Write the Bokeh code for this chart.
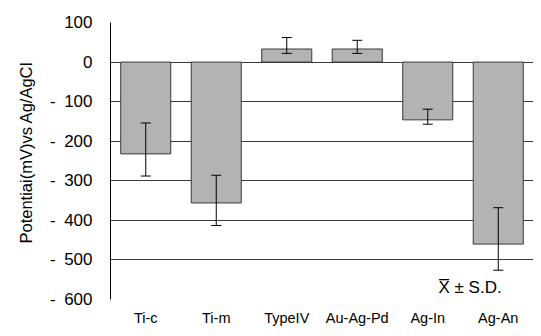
from bokeh.plotting import figure
from bokeh.models import ColumnDataSource, Whisker, TeeHead, FixedTicker, Label, FactorRange, Range1d, Title
from bokeh.embed import file_html
from bokeh.resources import INLINE

categories = ["Ti-c", "Ti-m", "TypeIV", "Au-Ag-Pd", "Ag-In", "Ag-An"]
means = [-232, -356, 33, 33, -146, -460]
err_upper = [-154, -286, 62, 55, -119, -368]
err_lower = [-288, -413, 22, 22, -157, -526]
y_ticks = [-600, -500, -400, -300, -200, -100, 0, 100]
y_tick_labels = ["-\u2002600", "-\u2002500", "-\u2002400", "-\u2002300",
                 "-\u2002200", "-\u2002100", "0", "100"]
y_title = "Potentiai(mV)vs Ag/AgCI"
legend_note = "X\u0305 \u00b1 S.D."

FONT = "Liberation Sans"

src = ColumnDataSource(data=dict(cat=categories, val=means,
                                 upper=err_upper, lower=err_lower))

p = figure(x_range=FactorRange(*categories, range_padding=0),
           y_range=Range1d(-600, 100),
           width=533, height=328, output_backend="svg", toolbar_location=None,
           min_border_left=110, min_border_right=0, min_border_top=22,
           min_border_bottom=22)
p.outline_line_color = None
p.background_fill_color = "white"
p.border_fill_color = "white"

p.vbar(x="cat", top="val", bottom=0, width=0.71, source=src,
       fill_color="#b3b3b3", line_color="#3a3a3a", line_width=1)

w = Whisker(base="cat", upper="upper", lower="lower", source=src,
            line_color="black", line_width=1, level="overlay",
            upper_head=TeeHead(size=10, line_color="black", line_width=1),
            lower_head=TeeHead(size=10, line_color="black", line_width=1))
p.add_layout(w)

# grid
p.xgrid.grid_line_color = None
p.ygrid.ticker = FixedTicker(ticks=y_ticks)
p.ygrid.grid_line_color = "#3a3a3a"
p.ygrid.grid_line_width = 1

# y axis
p.yaxis.ticker = FixedTicker(ticks=y_ticks)
p.yaxis.major_label_overrides = {t: s for t, s in zip(y_ticks, y_tick_labels)}
p.yaxis.axis_line_color = "black"
p.yaxis.major_tick_line_color = None
p.yaxis.minor_tick_line_color = None
p.yaxis.major_label_standoff = 12
p.yaxis.major_label_text_font = FONT
p.yaxis.major_label_text_font_size = "17px"
p.yaxis.major_label_text_color = "black"

ytitle = Title(text=y_title, align="left", offset=56, standoff=23,
               text_font=FONT, text_font_size="16.5px",
               text_font_style="normal", text_color="black")
p.add_layout(ytitle, "left")

# x axis
p.xaxis.axis_line_color = None
p.xaxis.major_tick_line_color = None
p.xaxis.minor_tick_line_color = None
p.xaxis.major_label_standoff = 4
p.xaxis.major_label_text_font = FONT
p.xaxis.major_label_text_font_size = "14.5px"
p.xaxis.major_label_text_color = "black"

lab = Label(x=5.1, y=-570, text=legend_note, text_font=FONT,
            text_font_size="17px", text_align="center", text_baseline="middle",
            text_color="black")
p.add_layout(lab)

open("out.html", "w").write(file_html(p, INLINE))
